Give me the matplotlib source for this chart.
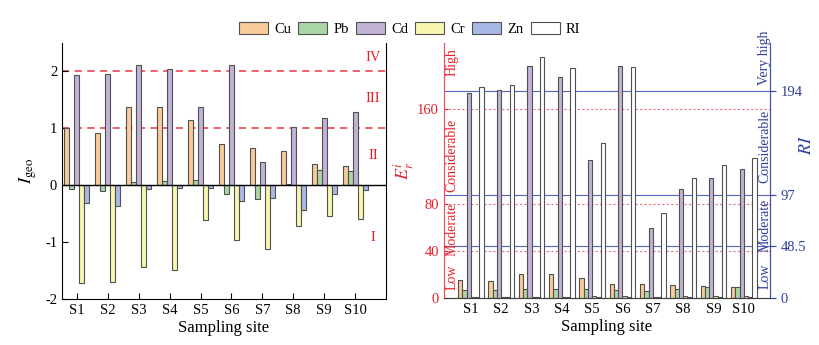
import numpy as np
import matplotlib
matplotlib.use('Agg')
import matplotlib.pyplot as plt
from matplotlib.patches import Patch
from matplotlib.transforms import blended_transform_factory

plt.rcParams['font.family'] = ['Liberation Serif', 'DejaVu Serif']
plt.rcParams['mathtext.fontset'] = 'stix'
plt.rcParams['font.size'] = 10
plt.rcParams['axes.unicode_minus'] = False

sites = ['S1', 'S2', 'S3', 'S4', 'S5', 'S6', 'S7', 'S8', 'S9', 'S10']
metals = ['Cu', 'Pb', 'Cd', 'Cr', 'Zn']

# geo-accumulation index
igeo_cu = [1.01, 0.91, 1.38, 1.37, 1.15, 0.72, 0.66, 0.61, 0.38, 0.33]
igeo_pb = [-0.06, -0.10, 0.06, 0.07, 0.10, -0.15, -0.25, 0.02, 0.26, 0.25]
igeo_cd = [1.94, 1.96, 2.12, 2.05, 1.38, 2.12, 0.40, 1.02, 1.19, 1.28]
igeo_cr = [-1.71, -1.70, -1.44, -1.49, -0.61, -0.97, -1.12, -0.72, -0.54, -0.59]
igeo_zn = [-0.32, -0.36, -0.06, -0.05, -0.05, -0.27, -0.22, -0.43, -0.16, -0.08]

# potential ecological risk
er_cu = [15.7, 14.3, 20.0, 20.0, 17.0, 12.3, 12.0, 11.4, 10.0, 9.7]
er_pb = [7.1, 7.1, 8.0, 8.0, 8.0, 7.1, 6.3, 8.0, 9.4, 9.1]
er_cd = [174, 176, 196.6, 187, 117, 196.6, 59.7, 92, 102, 109]
er_cr = [1.2, 1.2, 1.3, 1.3, 1.9, 1.5, 1.3, 1.8, 2.0, 1.9]
er_zn = [1.0, 1.0, 1.0, 1.0, 1.2, 1.0, 1.0, 1.2, 1.0, 1.2]
ri = [197.8, 199.4, 226, 216, 145, 217, 80, 113, 125, 131]

igeo_levels = [1, 2]
igeo_classes = ['I', 'II', 'III', 'IV']
igeo_class_y = [-0.92, 0.53, 1.53, 2.25]
er_levels = [40, 80, 160]
er_classes = ['Low', 'Moderate', 'Considerable', 'High']
er_class_y = [18, 58, 121, 200]
ri_levels = [48.5, 97, 194]
ri_classes = ['Low', 'Moderate', 'Considerable', 'Very high']
ri_class_y = [20, 68.5, 142, 225]

colors = ['#F8CB98', '#A9D8A6', '#C2B2D6', '#F8F6B0', '#A9B9E6']
ri_color = 'white'
edge = '#505050'
red = '#E8202A'
blue = '#2E3F9A'

fig = plt.figure(figsize=(8.19, 3.45), dpi=100)
ax1 = fig.add_axes([0.0757, 0.1333, 0.3956, 0.742])
ax = fig.add_axes([0.542, 0.136, 0.398, 0.739])

x = np.arange(len(sites))

# ---- left panel: Igeo
w = 0.162
for i, vals in enumerate([igeo_cu, igeo_pb, igeo_cd, igeo_cr, igeo_zn]):
    ax1.bar(x + (i - 2) * w, vals, width=w, color=colors[i], edgecolor=edge, linewidth=0.8, zorder=2)
ax1.axhline(0, color='black', lw=1.0, zorder=3)
for lv in igeo_levels:
    ax1.axhline(lv, color='#EE5560', lw=1.3, ls=(0, (4, 3)), zorder=1)
for lab, yy in zip(igeo_classes, igeo_class_y):
    ax1.text(9.58, yy, lab, color=red, ha='center', va='center', fontsize=10.5)
ax1.set_xlim(-0.48, 10.0)
ax1.set_ylim(-2, 2.5)
ax1.set_yticks([-2, -1, 0, 1, 2])
ax1.set_xticks(x)
ax1.set_xticklabels(sites, fontsize=10.5)
ax1.tick_params(direction='in', length=4, labelsize=10.5)
ax1.spines['top'].set_visible(False)
ax1.set_xlabel('Sampling site', fontsize=12, labelpad=2)
ax1.set_ylabel(r'$I_{\rm geo}$', fontsize=13, labelpad=4)

# ---- right panel: Er and RI
w2 = 0.14
ax2 = ax.twinx()
ax.set_xlim(-0.89, 9.86)
ax.set_ylim(0, 216)
ax2.set_ylim(0, 239)
for i, vals in enumerate([er_cu, er_pb, er_cd, er_cr, er_zn]):
    ax.bar(x + (i - 2.5) * w2, vals, width=w2, color=colors[i], edgecolor=edge, linewidth=0.8, zorder=2)
ax2.bar(x + 2.5 * w2, ri, width=w2, color=ri_color, edgecolor=edge, linewidth=0.8, zorder=2)

for lv in er_levels:
    ax.axhline(lv, color='#F07078', lw=0.8, ls=(0, (2, 2)), zorder=1)
tr = blended_transform_factory(ax.transAxes, ax2.transData)
for lv in ri_levels:
    ax.plot([0, 1], [lv, lv], transform=tr, color='#5565C0', lw=0.8, zorder=1)

for lab, yy in zip(er_classes, er_class_y):
    ax.text(0.025, yy, lab, color=red, rotation=90, ha='center', va='center',
            fontsize=10, transform=blended_transform_factory(ax.transAxes, ax.transData))
for lab, yy in zip(ri_classes, ri_class_y):
    ax2.text(0.985, yy, lab, color=blue, rotation=90, ha='center', va='center',
             fontsize=10, transform=blended_transform_factory(ax2.transAxes, ax2.transData),
             clip_on=False)

ax.set_xticks(x)
ax.set_xticklabels(sites)
ax.set_yticks([0] + er_levels)
ax2.set_yticks([0] + ri_levels)
ax2.set_yticklabels(['0', '48.5', '97', '194'])
ax.tick_params(axis='x', direction='in', length=0, labelsize=10.5)
ax.tick_params(axis='y', direction='in', length=3, colors=red, labelcolor=red, labelsize=10.5)
ax2.tick_params(axis='y', direction='out', length=4, colors=blue, labelcolor=blue, labelsize=10.5)
for a in (ax, ax2):
    a.spines['top'].set_visible(False)
    a.spines['left'].set_color('#F05060')
    a.spines['right'].set_color('#4050B0')
    a.spines['bottom'].set_color('#404040')
ax.set_xlabel('Sampling site', fontsize=12, labelpad=2)
ax.set_ylabel(r'$E_r^i$', color=red, fontsize=13, labelpad=1)
ax2.set_ylabel(r'$RI$', color=blue, fontsize=13)
ax2.yaxis.set_label_coords(1.085, 0.6)

handles = [Patch(facecolor=c, edgecolor=edge, linewidth=0.8) for c in colors]
handles.append(Patch(facecolor=ri_color, edgecolor=edge, linewidth=0.8))
fig.legend(handles, metals + ['RI'], loc='center', bbox_to_anchor=(0.5, 0.916), ncol=6,
           frameon=False, handlelength=2.0, handleheight=0.9, handletextpad=0.4,
           columnspacing=0.5, fontsize=10.5)

fig.savefig('out.png', dpi=100)
